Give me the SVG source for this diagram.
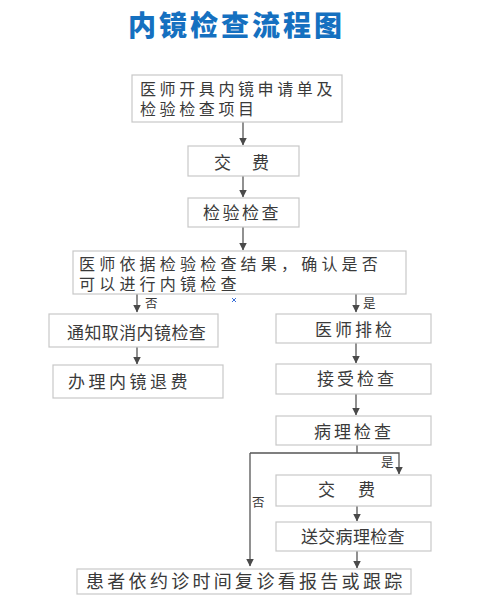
<svg xmlns="http://www.w3.org/2000/svg" width="493" height="603" viewBox="0 0 493 603">
<defs>
<marker id="ah" viewBox="0 0 8 8" refX="7.5" refY="4" markerWidth="8" markerHeight="8" markerUnits="userSpaceOnUse" orient="auto">
<path d="M0,0 L8,4 L0,8 Z" fill="#4a4a4a"/>
</marker>
<style>
.box{fill:#ffffff;stroke:#c8c8c8;stroke-width:1.2}
.t{font-family:"Noto Sans CJK SC","Noto Sans",sans-serif;font-size:17px;fill:#3a3a3a}
.t2{font-family:"Liberation Sans","Noto Sans CJK SC",sans-serif;font-size:16px;fill:#3a3a3a}
.lb{font-family:"Noto Sans CJK SC","Noto Sans",sans-serif;font-size:12.5px;fill:#3a3a3a}
.c{fill:none;stroke:#555;stroke-width:1.3}
.ca{fill:none;stroke:#555;stroke-width:1.3;marker-end:url(#ah)}
</style>
</defs>
<rect width="493" height="603" fill="#ffffff"/>
<text x="128" y="36" style="font-family:'Noto Sans CJK SC','Noto Sans',sans-serif;font-size:28px;font-weight:900;fill:#1570c0;letter-spacing:3px">内镜检查流程图</text>

<g id="connectors">
<line class="ca" x1="243" y1="122" x2="243" y2="145"/>
<line class="ca" x1="243" y1="176" x2="243" y2="197"/>
<line class="ca" x1="243" y1="227" x2="243" y2="250"/>
<line class="ca" x1="137" y1="294" x2="137" y2="312"/>
<line class="ca" x1="356" y1="294" x2="356" y2="312"/>
<line class="ca" x1="137" y1="347" x2="137" y2="364"/>
<line class="ca" x1="356" y1="343" x2="356" y2="363"/>
<line class="ca" x1="356" y1="394" x2="356" y2="415"/>
<polyline class="c" points="357,445 357,453"/>
<polyline class="ca" points="250,453 399,453 399,474"/>
<polyline class="ca" points="250,453 250,566"/>
<line class="ca" x1="357" y1="506" x2="357" y2="521"/>
<line class="ca" x1="357" y1="551" x2="357" y2="568"/>
<text class="lb" x="145" y="308">否</text>
<text class="lb" x="363" y="308">是</text>
<text class="lb" x="381" y="467">是</text>
<text class="lb" x="252" y="507">否</text>
</g>

<g id="n1"><rect class="box" x="132" y="75" width="210" height="47"/>
<text class="t2" x="140" y="95" style="letter-spacing:3.6px">医师开具内镜申请单及</text>
<text class="t2" x="140" y="114.5" style="letter-spacing:3.6px">检验检查项目</text></g>

<g id="n2"><rect class="box" x="188" y="146" width="111" height="30"/>
<text class="t" x="214" y="169">交</text><text class="t" x="252" y="169">费</text></g>

<g id="n3"><rect class="box" x="188" y="198" width="111" height="29"/>
<text class="t" x="203" y="219" style="letter-spacing:2.5px">检验检查</text></g>

<g id="n4"><rect class="box" x="73" y="251" width="333" height="43"/>
<text class="t2" x="79" y="270" style="letter-spacing:4.2px">医师依据检验检查结果，确认是否</text>
<text class="t2" x="79" y="289.5" style="letter-spacing:4.2px">可以进行内镜检查</text></g>

<g id="n5"><rect class="box" x="49" y="314" width="169" height="33"/>
<text class="t" x="67" y="339" style="letter-spacing:0.4px">通知取消内镜检查</text></g>

<g id="n6"><rect class="box" x="53" y="365" width="170" height="33"/>
<text class="t" x="68" y="388" style="letter-spacing:3.5px">办理内镜退费</text></g>

<g id="n7"><rect class="box" x="276" y="314" width="155" height="29"/>
<text class="t" x="315" y="336" style="letter-spacing:3px">医师排检</text></g>

<g id="n8"><rect class="box" x="276" y="364" width="155" height="30"/>
<text class="t" x="317" y="385" style="letter-spacing:3px">接受检查</text></g>

<g id="n9"><rect class="box" x="276" y="416" width="155" height="29"/>
<text class="t" x="314" y="438" style="letter-spacing:3px">病理检查</text></g>

<g id="n10"><rect class="box" x="276" y="475" width="155" height="31"/>
<text class="t" x="318" y="496">交</text><text class="t" x="358" y="496">费</text></g>

<g id="n11"><rect class="box" x="276" y="522" width="155" height="29"/>
<text class="t" x="301" y="543" style="letter-spacing:0.3px">送交病理检查</text></g>

<g id="n12"><rect class="box" x="77" y="569" width="334" height="25"/>
<text class="t" x="86" y="588" style="font-size:18px;letter-spacing:3.3px">患者依约诊时间复诊看报告或跟踪</text></g>

<g id="mark"><path d="M232,298 L236,302 M236,298 L232,302" stroke="#3a6fd8" stroke-width="1"/></g>
</svg>
